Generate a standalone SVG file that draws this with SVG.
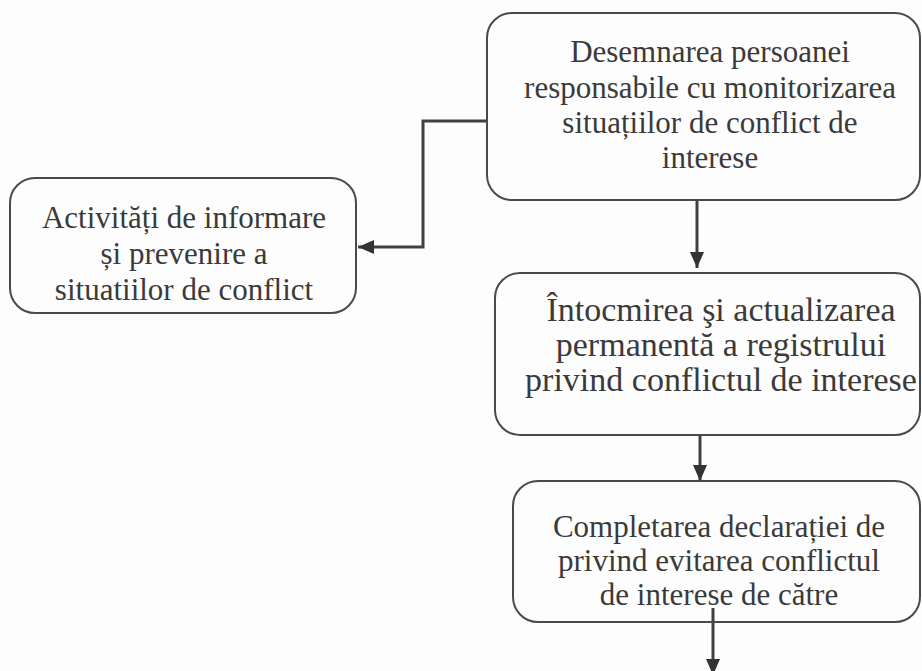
<svg xmlns="http://www.w3.org/2000/svg" width="922" height="671" viewBox="0 0 922 671">
<style>
.box{fill:none;stroke:#4a4a4a;stroke-width:2}
.t{font-family:"Liberation Serif","Times New Roman",serif;font-size:31px;fill:#3a3a3a;text-anchor:middle}
.t3{font-size:34px}
.c{fill:none;stroke:#404040;stroke-width:3}
</style>
<defs>
<marker id="ah" viewBox="0 0 16 14" refX="16" refY="7" markerWidth="16" markerHeight="14" markerUnits="userSpaceOnUse" orient="auto">
<path d="M0,0 L16,7 L0,14 Z" fill="#333"/>
</marker>
</defs>
<rect width="922" height="671" fill="#fdfdfd"/>
<g id="connectors">
<path class="c" d="M487,121 H423 V247 H358" marker-end="url(#ah)"/>
<path class="c" d="M697,200 V268" marker-end="url(#ah)"/>
<path class="c" d="M700,435 V481" marker-end="url(#ah)"/>
<path class="c" d="M713,608 V675" marker-end="url(#ah)"/>
</g>
<g id="node1">
<rect class="box" x="487" y="13" width="433" height="187" rx="25"/>
<text class="t" x="710" y="62">Desemnarea persoanei</text>
<text class="t" x="710" y="98">responsabile cu monitorizarea</text>
<text class="t" x="710" y="133">situațiilor de conflict de</text>
<text class="t" x="710" y="168">interese</text>
</g>
<g id="node2">
<rect class="box" x="10" y="178" width="346" height="135" rx="25"/>
<text class="t" x="184" y="228">Activități de informare</text>
<text class="t" x="184" y="264">și prevenire a</text>
<text class="t" x="184" y="300">situatiilor de conflict</text>
</g>
<g id="node3">
<rect class="box" x="495" y="273" width="425" height="162" rx="25"/>
<text class="t t3" x="721" y="321">Întocmirea şi actualizarea</text>
<text class="t t3" x="721" y="356">permanentă a registrului</text>
<text class="t t3" x="721" y="391">privind conflictul de interese</text>
</g>
<g id="node4">
<rect class="box" x="513" y="481" width="407" height="141" rx="25"/>
<text class="t" x="719" y="537">Completarea declarației de</text>
<text class="t" x="719" y="571">privind evitarea conflictul</text>
<text class="t" x="719" y="605">de interese de către</text>
</g>
</svg>
